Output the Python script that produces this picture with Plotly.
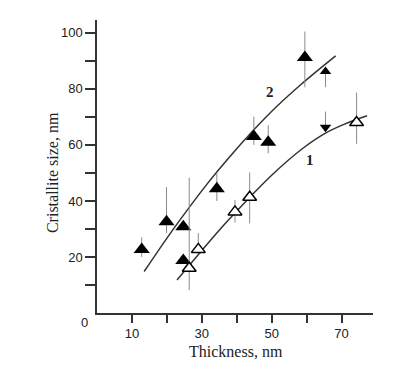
import plotly.graph_objects as go

# Series 2 (filled triangles)
x2 = [12.8, 19.9, 24.7, 24.7, 34.3, 44.9, 49.0, 59.5]
y2 = [22.7, 32.6, 30.8, 18.7, 44.4, 63.0, 61.0, 91.2]
e2_plus = [4.3, 12.3, 0, 0, 5.6, 7.1, 6.0, 9.3]
e2_minus = [2.7, 4.1, 0, 0, 4.4, 3.0, 4.0, 10.6]

# small filled triangle
x2s = [65.4]
y2s = [86.2]
e2s_plus = [0]
e2s_minus = [5.6]

# filled down triangle
x_dn = [65.4]
y_dn = [66.3]
edn_plus = [5.6]
edn_minus = [0]

# Series 1 (open triangles)
x1 = [26.4, 29.0, 39.5, 43.7, 74.3]
y1 = [16.0, 22.7, 36.1, 41.3, 68.0]
e1_plus = [32.3, 5.8, 4.3, 8.9, 10.7]
e1_minus = [7.8, 0, 3.8, 9.3, 7.6]

# Fitted curves
c2x = [13.5, 22.0, 31.6, 38.0, 44.9, 51.5, 58.3, 68.3]
c2y = [14.8, 30.2, 46.2, 55.8, 65.4, 73.8, 81.5, 91.8]
c1x = [22.9, 29.7, 36.0, 43.5, 50.0, 58.3, 65.4, 71.0, 77.3]
c1y = [11.8, 21.9, 31.0, 41.0, 49.2, 58.2, 64.2, 67.5, 70.4]

x_ticks = [10, 20, 30, 40, 50, 60, 70]
x_ticktext = ["10", "", "30", "", "50", "", "70"]
y_ticks = [10, 20, 30, 40, 50, 60, 70, 80, 90, 100]
y_ticktext = ["", "20", "", "40", "", "60", "", "80", "", "100"]

ERR = dict(type="data", symmetric=False, thickness=1, width=0, color="#8a8a8a")

fig = go.Figure()
fig.add_trace(go.Scatter(x=c2x, y=c2y, mode="lines", line=dict(color="#333", width=1.5, shape="spline")))
fig.add_trace(go.Scatter(x=c1x, y=c1y, mode="lines", line=dict(color="#333", width=1.5, shape="spline")))

fig.add_trace(go.Scatter(x=x2, y=y2, mode="markers",
                         marker=dict(symbol="triangle-up", size=14, color="black"),
                         error_y=dict(array=e2_plus, arrayminus=e2_minus, **ERR)))
fig.add_trace(go.Scatter(x=x2s, y=y2s, mode="markers",
                         marker=dict(symbol="triangle-up", size=10, color="black"),
                         error_y=dict(array=e2s_plus, arrayminus=e2s_minus, **ERR)))
fig.add_trace(go.Scatter(x=x_dn, y=y_dn, mode="markers",
                         marker=dict(symbol="triangle-down", size=10, color="black"),
                         error_y=dict(array=edn_plus, arrayminus=edn_minus, **ERR)))
fig.add_trace(go.Scatter(x=x1, y=y1, mode="markers",
                         marker=dict(symbol="triangle-up", size=12, color="white",
                                     line=dict(color="black", width=1.5)),
                         error_y=dict(array=e1_plus, arrayminus=e1_minus, **ERR)))

axis_common = dict(showgrid=False, zeroline=False, showline=True, linecolor="#333", linewidth=1.5,
                   ticks="outside", tickwidth=1.5, tickcolor="#333",
                   tickfont=dict(family="Liberation Sans", size=13, color="#222"))

fig.update_layout(
    width=410, height=373,
    margin=dict(l=97, r=37, t=20, b=60),
    paper_bgcolor="white", plot_bgcolor="white",
    showlegend=False,
    xaxis=dict(range=[0, 79], tickmode="array", tickvals=x_ticks, ticktext=x_ticktext, ticklen=8,
               **axis_common),
    yaxis=dict(range=[0, 104.6], tickmode="array", tickvals=y_ticks, ticktext=y_ticktext, ticklen=10,
               **axis_common),
    annotations=[
        dict(x=0, y=0, xref="x", yref="y", text="0", showarrow=False, xshift=-13, yshift=-9,
             xanchor="center", yanchor="middle",
             font=dict(family="Liberation Sans", size=13, color="#222")),
        dict(x=0.502, y=-0.133, xref="paper", yref="paper", text="Thickness, nm", showarrow=False,
             xanchor="center", yanchor="middle",
             font=dict(family="Liberation Serif", size=16, color="#222")),
        dict(x=-0.159, y=0.478, xref="paper", yref="paper", text="Cristallite size, nm", showarrow=False,
             xanchor="center", yanchor="middle",
             textangle=-90, font=dict(family="Liberation Serif", size=16, color="#222")),
        dict(x=49.5, y=79, xref="x", yref="y", text="<b>2</b>", showarrow=False,
             xanchor="center", yanchor="middle",
             font=dict(family="Liberation Serif", size=15, color="#222")),
        dict(x=61.1, y=54.6, xref="x", yref="y", text="<b>1</b>", showarrow=False,
             xanchor="center", yanchor="middle",
             font=dict(family="Liberation Serif", size=15, color="#222")),
    ],
)

fig.write_html("out.html", config={"displayModeBar": False},
               post_script="document.body.style.margin='0px';")
